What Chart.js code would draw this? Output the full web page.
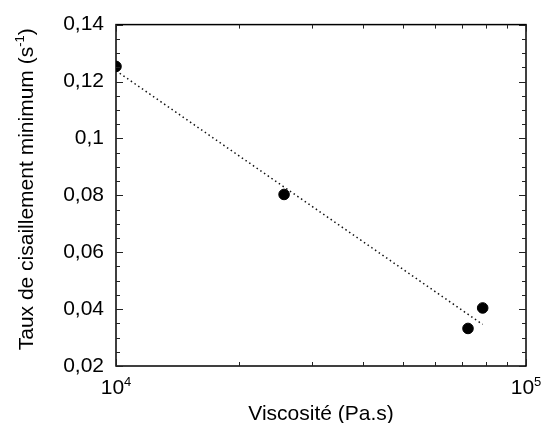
<!DOCTYPE html>
<html lang="fr">
<head>
  <meta charset="UTF-8">
  <title>Taux de cisaillement minimum</title>
  <script src="https://cdn.jsdelivr.net/npm/chart.js"></script>
  <style>
    body {
      margin: 0;
      padding: 0;
      background-color: #fff;
    }
    #wrap {
      width: 545px;
      height: 423px;
    }
  </style>
</head>
<body>
  <div id="wrap"><canvas id="chart" width="545" height="423"></canvas></div>
  <script>
    const viscosite = [10000, 25700, 72200, 78400];
    const tauxMin = [0.1253, 0.0803, 0.0332, 0.0404];
    // droite de tendance
    const fitX = [10000, 78400];
    const fitY = [0.1238, 0.0346];
    // axes
    const yTicks = [0.02, 0.04, 0.06, 0.08, 0.1, 0.12, 0.14];
    const xDecades = [4, 5];

    const FONT = "'Liberation Sans', Arial, sans-serif";

    const framePlugin = {
      id: 'frame',
      afterDraw(chart) {
        const ctx = chart.ctx;
        const a = chart.chartArea;
        const xs = chart.scales.x;
        const ys = chart.scales.y;
        ctx.save();
        ctx.strokeStyle = '#000';
        ctx.lineWidth = 1.5;
        ctx.strokeRect(a.left, a.top, a.right - a.left, a.bottom - a.top);

        // graduations vers l'intérieur
        ctx.lineWidth = 1;
        ctx.strokeStyle = '#222';
        ctx.beginPath();
        const yMin = yTicks[0], yMax = yTicks[yTicks.length - 1];
        for (let i = 0; i <= Math.round((yMax - yMin) / 0.005); i++) {
          const v = yMin + i * 0.005;
          const py = Math.round(ys.getPixelForValue(v)) + 0.5;
          const len = i % 4 === 0 ? 7 : 4;
          ctx.moveTo(a.left, py); ctx.lineTo(a.left + len, py);
          ctx.moveTo(a.right, py); ctx.lineTo(a.right - len, py);
        }
        const base = Math.pow(10, xDecades[0]);
        for (let m = 1; m <= 10; m++) {
          const px = Math.round(xs.getPixelForValue(m * base)) + 0.5;
          const len = (m === 1 || m === 10) ? 7 : 4;
          ctx.moveTo(px, a.bottom); ctx.lineTo(px, a.bottom - len);
          ctx.moveTo(px, a.top); ctx.lineTo(px, a.top + len);
        }
        ctx.stroke();

        // étiquettes 10^n
        ctx.fillStyle = '#000';
        ctx.textBaseline = 'alphabetic';
        ctx.textAlign = 'left';
        xDecades.forEach(e => {
          const px = xs.getPixelForValue(Math.pow(10, e));
          ctx.font = '21px ' + FONT;
          const w1 = ctx.measureText('10').width;
          ctx.font = '13px ' + FONT;
          const w2 = ctx.measureText(String(e)).width;
          const x0 = px - (w1 + w2) / 2;
          ctx.font = '21px ' + FONT;
          ctx.fillText('10', x0, a.bottom + 28);
          ctx.font = '13px ' + FONT;
          ctx.fillText(String(e), x0 + w1, a.bottom + 20);
        });

        // titre axe x
        ctx.font = '21px ' + FONT;
        ctx.textAlign = 'center';
        ctx.fillText('Viscosité (Pa.s)', (a.left + a.right) / 2, 420);

        // titre axe y
        ctx.translate(33, (a.top + a.bottom) / 2 - 6);
        ctx.rotate(-Math.PI / 2);
        ctx.textAlign = 'left';
        const t1 = 'Taux de cisaillement minimum (s';
        ctx.font = '21px ' + FONT;
        const w1 = ctx.measureText(t1).width;
        const w3 = ctx.measureText(')').width;
        ctx.font = '13px ' + FONT;
        const w2 = ctx.measureText('-1').width;
        const x0 = -(w1 + w2 + w3) / 2;
        ctx.font = '21px ' + FONT;
        ctx.fillText(t1, x0, 0);
        ctx.font = '13px ' + FONT;
        ctx.fillText('-1', x0 + w1, -9);
        ctx.font = '21px ' + FONT;
        ctx.fillText(')', x0 + w1 + w2, 0);
        ctx.restore();
      }
    };

    const ctx = document.getElementById('chart').getContext('2d');
    new Chart(ctx, {
      type: 'scatter',
      data: {
        datasets: [{
          label: 'Mesures',
          data: viscosite.map((v, i) => ({ x: v, y: tauxMin[i] })),
          backgroundColor: '#000',
          borderColor: '#000',
          pointRadius: 5.3,
          pointHoverRadius: 5.3,
          order: 1
        }, {
          label: 'Tendance',
          data: fitX.map((v, i) => ({ x: v, y: fitY[i] })),
          showLine: true,
          pointRadius: 0,
          borderColor: '#111',
          borderWidth: 1.5,
          borderDash: [1.5, 3],
          order: 2
        }]
      },
      options: {
        responsive: false,
        animation: false,
        layout: { padding: { left: 0, top: 24, right: 19, bottom: 0 } },
        plugins: {
          legend: { display: false },
          tooltip: { enabled: false }
        },
        scales: {
          x: {
            type: 'logarithmic',
            min: Math.pow(10, xDecades[0]),
            max: Math.pow(10, xDecades[1]),
            grid: { display: false, drawTicks: false },
            border: { display: false },
            ticks: { display: false },
            afterFit: s => { s.height = 57; }
          },
          y: {
            min: yTicks[0],
            max: yTicks[yTicks.length - 1],
            grid: { display: false, drawTicks: false },
            border: { display: false },
            afterBuildTicks: s => { s.ticks = yTicks.map(v => ({ value: v })); },
            afterFit: s => { s.width = 116; },
            ticks: {
              color: '#000',
              padding: 12,
              font: { family: FONT, size: 21 },
              callback: v => String(+v.toFixed(2)).replace('.', ',')
            }
          }
        }
      },
      plugins: [framePlugin]
    });
  </script>
</body>
</html>
